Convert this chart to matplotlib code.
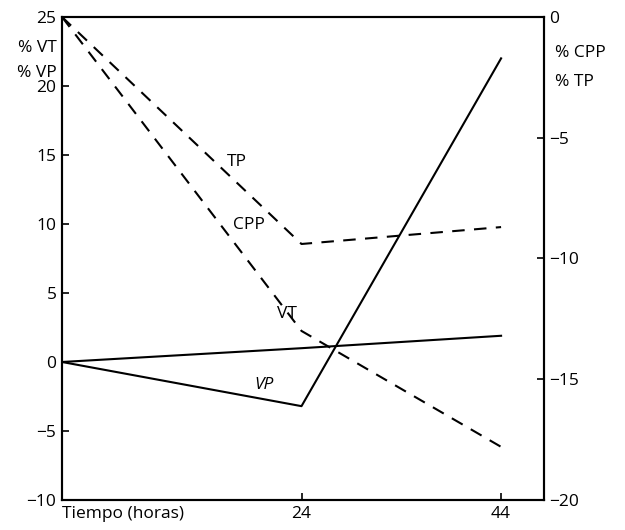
import matplotlib
matplotlib.use("Agg")
import matplotlib.pyplot as plt

plt.rcParams['font.family'] = ['Open Sans', 'DejaVu Sans']
plt.rcParams['font.size'] = 12.5

# Data
hours = [0, 24, 44]
vt = [0, 1.0, 1.9]          # % VT (left axis)
vp = [0, -3.2, 22.0]        # % VP (left axis)
tp = [0, -9.4, -8.7]        # % TP (right axis)
cpp = [0, -13.0, -17.8]     # % CPP (right axis)

left_ticks = [-10, -5, 0, 5, 10, 15, 20, 25]
right_ticks = [-20, -15, -10, -5, 0]
x_ticks = [0, 24, 44]
x_ticklabels = ["Tiempo (horas)", "24", "44"]

fig = plt.figure(figsize=(6.25, 5.3), dpi=100)
ax = fig.add_axes([0.0992, 0.0566, 0.7712, 0.9114])
ax2 = ax.twinx()

lw = 1.5
ax.plot(hours, vt, color='black', lw=lw)
ax.plot(hours, vp, color='black', lw=lw)
ax2.plot(hours, tp, color='black', lw=lw, ls=(0, (6, 4.5)))
ax2.plot(hours, cpp, color='black', lw=lw, ls=(0, (6, 4.5)))

ax.set_xlim(0, 48.3)
ax.set_ylim(-10, 25)
ax2.set_ylim(-20, 0)

ax.set_yticks(left_ticks)
ax2.set_yticks(right_ticks)
ax.set_xticks(x_ticks)
ax.set_xticklabels(x_ticklabels)
ax.get_xticklabels()[0].set_horizontalalignment('left')

for a in (ax, ax2):
    for s in a.spines.values():
        s.set_linewidth(1.5)
ax.tick_params(axis='both', direction='in', length=5, width=1.2, pad=4)
ax2.tick_params(axis='y', direction='in', length=5, width=1.2, pad=4)

# Axis unit labels
ax.text(-0.01, 0.935, "% VT", transform=ax.transAxes, ha='right', va='center')
ax.text(-0.01, 0.885, "% VP", transform=ax.transAxes, ha='right', va='center')
ax2.text(1.022, 0.925, "% CPP", transform=ax2.transAxes, ha='left', va='center')
ax2.text(1.022, 0.865, "% TP", transform=ax2.transAxes, ha='left', va='center')

# Line labels
ax2.text(17.5, -6.0, "TP", ha='center', va='center')
ax2.text(18.7, -8.6, "CPP", ha='center', va='center')
ax.text(22.5, 3.5, "VT", ha='center', va='center')
ax.text(20.2, -1.7, "VP", ha='center', va='center', style='italic')

fig.savefig("out.png", dpi=100)
